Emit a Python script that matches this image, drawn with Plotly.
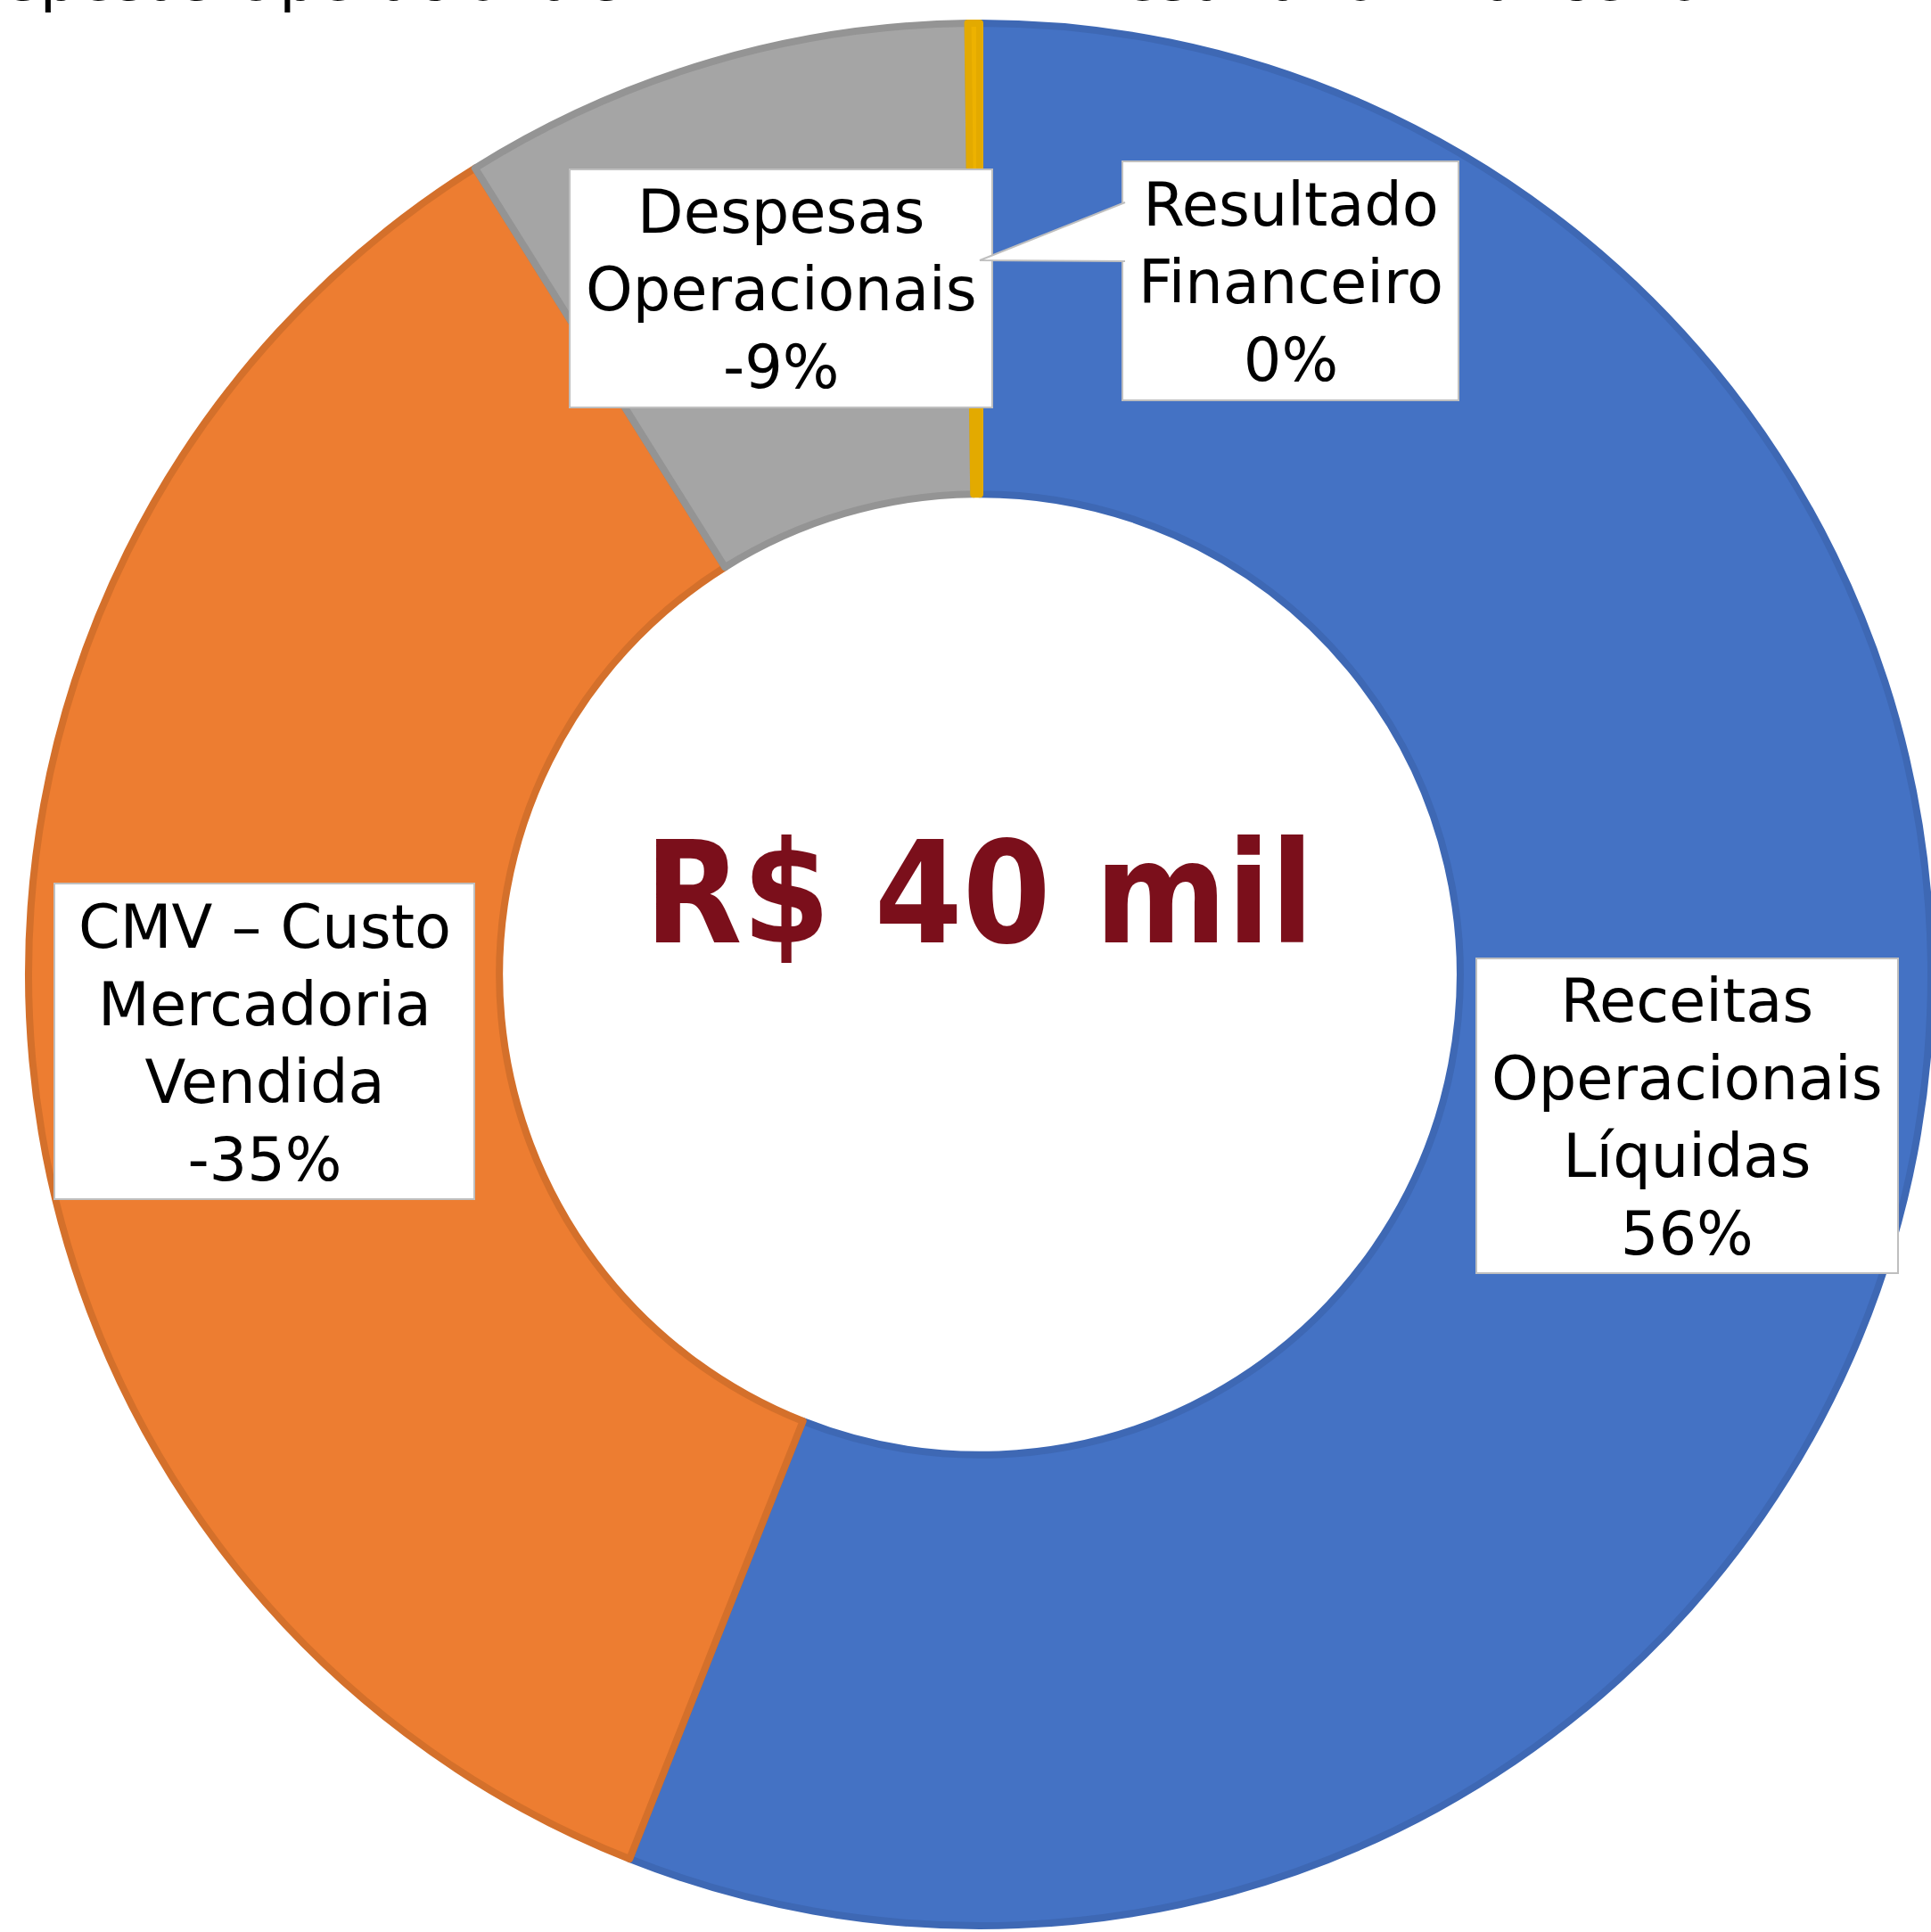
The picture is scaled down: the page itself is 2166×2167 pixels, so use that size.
import plotly.graph_objects as go

W, H = 2166, 2167

# ---- data ----
categories = ["Receitas Operacionais Líquidas", "CMV – Custo Mercadoria Vendida",
              "Despesas Operacionais", "Resultado Financeiro"]
label_lines = ["Receitas<br>Operacionais<br>Líquidas", "CMV – Custo<br>Mercadoria<br>Vendida",
               "Despesas<br>Operacionais", "Resultado<br>Financeiro"]
signed_share = [56.0, -35.1, -8.7, 0.2]
center_text = "R$ 40 mil"

fill_colors = ["#4472C4", "#ED7D31", "#A5A5A5", "#EDB200"]
edge_colors = ["#3E68B4", "#D4702B", "#949494", "#E3AA00"]

values = [abs(v) for v in signed_share]
total = sum(values)
pct_text = [f"{round(v / total * 100) * (1 if s >= 0 else -1):.0f}%" for v, s in zip(values, signed_share)]

def px(x):
    return x / W

def py(y):
    return 1 - y / H

# pie geometry (pixels)
cx, cy, r = 1099, 1093, 1067

fig = go.Figure(go.Pie(
    labels=categories,
    values=values,
    sort=False,
    direction="clockwise",
    rotation=0,
    hole=0.505,
    textinfo="none",
    hoverinfo="label+percent",
    marker=dict(colors=fill_colors, line=dict(color=edge_colors, width=8)),
    domain=dict(x=[px(cx - r), px(cx + r)], y=[py(cy + r), py(cy - r)]),
    showlegend=False,
))

# label boxes (pixel positions)
boxes = {
    0: (1656, 1075, 2129, 1428),
    1: (61, 991, 532, 1345),
    2: (639, 190, 1113, 457),
    3: (1259, 181, 1636, 449),
}

shapes = []
annotations = []
font_lbl = dict(family="DejaVu Sans", size=67, color="black")
for i, (x0, y0, x1, y1) in boxes.items():
    shapes.append(dict(type="rect", xref="paper", yref="paper",
                       x0=px(x0), x1=px(x1), y0=py(y1), y1=py(y0),
                       fillcolor="white", line=dict(color="#BFBFBF", width=2), layer="above"))
    annotations.append(dict(xref="paper", yref="paper", x=px((x0 + x1) / 2), y=py((y0 + y1) / 2 + 2),
                            xanchor="center", yanchor="middle", showarrow=False, align="center",
                            text=f"{label_lines[i]}<br>{pct_text[i]}", font=font_lbl))

# callout pointer for the small slice
shapes.append(dict(type="path", xref="paper", yref="paper",
                   path=f"M {px(1262)},{py(227)} L {px(1099)},{py(292)} L {px(1262)},{py(293)}",
                   fillcolor="white", line=dict(color="#BFBFBF", width=2), layer="above"))

# center total
annotations.append(dict(xref="paper", yref="paper", x=px(1098), y=py(1002),
                        xanchor="center", yanchor="middle", showarrow=False,
                        text=f"<b>{center_text}</b>",
                        font=dict(family="DejaVu Sans Condensed, DejaVu Sans", size=158, color="#7B0F1B")))

# legend row cut off at the top edge (as in the reference)
annotations.append(dict(xref="paper", yref="paper", x=px(700), y=py(17), xanchor="right", yanchor="bottom",
                        showarrow=False, text=categories[2], font=font_lbl, borderpad=0))
annotations.append(dict(xref="paper", yref="paper", x=px(1214), y=py(17), xanchor="left", yanchor="bottom",
                        showarrow=False, text=categories[3], font=font_lbl, borderpad=0))

fig.update_layout(
    width=W, height=H,
    margin=dict(l=0, r=0, t=0, b=0),
    paper_bgcolor="white", plot_bgcolor="white",
    shapes=shapes, annotations=annotations,
)

fig.write_html("out.html", config={"displayModeBar": False},
               post_script="document.body.style.margin='0';document.body.style.overflow='hidden';")
